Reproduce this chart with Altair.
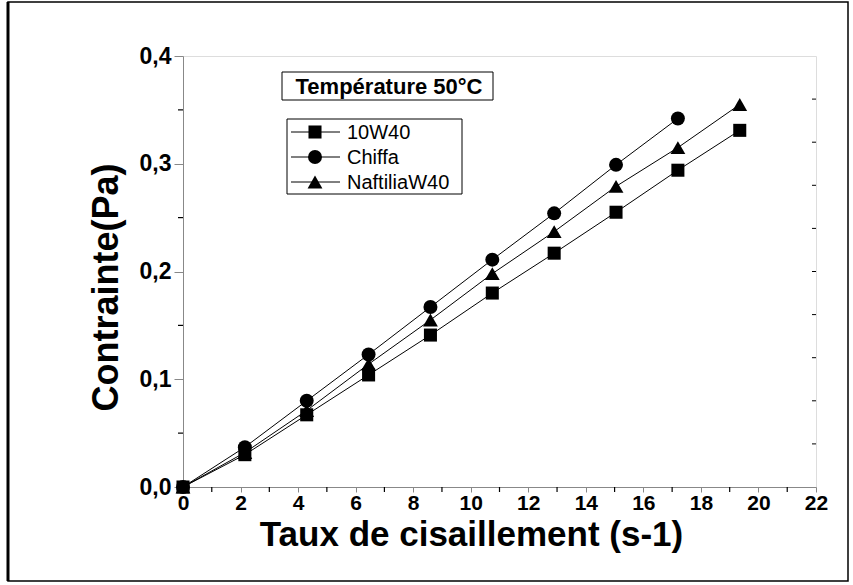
import altair as alt
import pandas as pd

# ---- data ----
x_vals = [0, 2.15, 4.3, 6.45, 8.6, 10.75, 12.9, 15.05, 17.2, 19.35]
y_10w40 = [0, 0.030, 0.067, 0.104, 0.141, 0.180, 0.217, 0.255, 0.294, 0.331]
y_chiffa = [0, 0.037, 0.080, 0.123, 0.167, 0.211, 0.254, 0.299, 0.342]
y_naftilia = [0, 0.032, 0.071, 0.114, 0.155, 0.198, 0.237, 0.279, 0.315, 0.355]
series_names = ["10W40", "Chiffa", "NaftiliaW40"]
title_text = ["Température 50°C"]
x_title = "Taux de cisaillement (s-1)"
y_title = "Contrainte(Pa)"
x_ticks = [0, 2, 4, 6, 8, 10, 12, 14, 16, 18, 20, 22]
x_minor = [1, 3, 5, 7, 9, 11, 13, 15, 17, 19, 21]
y_ticks = [0, 0.1, 0.2, 0.3, 0.4]
y_minor = [0.05, 0.15, 0.25, 0.35]
y_right = [0.04, 0.08, 0.12, 0.16, 0.20, 0.24, 0.28, 0.32, 0.36]

rows = []
for name, ys in zip(series_names, [y_10w40, y_chiffa, y_naftilia]):
    for xv, yv in zip(x_vals, ys):
        rows.append({"series": name, "x": xv, "y": yv})
df = pd.DataFrame(rows)

W, H = 633, 431
FONT = "Liberation Sans"

xs = alt.Scale(domain=[0, 22], nice=False, zero=False)
ys = alt.Scale(domain=[0, 0.4], nice=False, zero=False)

shape_scale = alt.Scale(domain=series_names, range=["square", "circle", "triangle-up"])
size_scale = alt.Scale(domain=series_names, range=[170, 220, 320])
sw_scale = alt.Scale(domain=series_names, range=[1, 1, 2.2])

x_axis = alt.Axis(values=x_ticks, format="d", labelFont=FONT, labelFontSize=21,
                  labelFontWeight="bold", tickSize=5, labelPadding=0, labelFlush=False,
                  titleFontSize=35, titleFont=FONT, titleFontWeight="bold",
                  titlePadding=4, titleX=288, grid=False)
y_axis = alt.Axis(values=y_ticks, format=".1f",
                  labelExpr="replace(datum.label, '.', ',')",
                  labelFont=FONT, labelFontSize=23, labelFontWeight="bold",
                  tickSize=9, labelPadding=3, labelFlush=False,
                  titleFontSize=36, titleFont=FONT, titleFontWeight="bold",
                  titlePadding=14, titleY=231, grid=False)


def X(field):
    return alt.X(field, scale=xs, title=x_title, axis=x_axis)


def Y(field):
    return alt.Y(field, scale=ys, title=y_title, axis=y_axis)


base = alt.Chart(df)
lines = base.mark_line(color="black").encode(
    x=X("x:Q"), y=Y("y:Q"), detail="series:N",
    strokeWidth=alt.StrokeWidth("series:N", scale=sw_scale, legend=None),
)
points = base.mark_point(filled=True, color="black", opacity=1).encode(
    x=X("x:Q"), y=Y("y:Q"),
    shape=alt.Shape("series:N", scale=shape_scale, legend=None),
    size=alt.Size("series:N", scale=size_scale, legend=None),
)

xminor = alt.Chart(pd.DataFrame({"x": x_minor})).mark_rule(color="black", strokeWidth=1.2).encode(
    x=X("x:Q"), y=alt.value(H), y2=alt.value(H + 5))
yminor = alt.Chart(pd.DataFrame({"y": y_minor})).mark_rule(color="black", strokeWidth=1.2).encode(
    y=Y("y:Q"), x=alt.value(-5), x2=alt.value(0))
yright = alt.Chart(pd.DataFrame({"y": y_right})).mark_rule(color="black", strokeWidth=1).encode(
    y=Y("y:Q"), x=alt.value(W - 4), x2=alt.value(W))

one = pd.DataFrame({"k": [0]})
frame = alt.Chart(one).mark_rect(fillOpacity=0, stroke="black", strokeWidth=1.5).encode(
    x=alt.value(-175), x2=alt.value(665), y=alt.value(-54), y2=alt.value(525))
frame_left = alt.Chart(one).mark_rule(color="black", strokeWidth=3).encode(
    x=alt.value(-175), y=alt.value(-54), y2=alt.value(525))

title_box = alt.Chart(one).mark_rect(fill="white", stroke="black", strokeWidth=1).encode(
    x=alt.value(99), x2=alt.value(310), y=alt.value(16), y2=alt.value(44))
title_txt = alt.Chart(pd.DataFrame({"t": title_text})).mark_text(
    font=FONT, fontSize=22, fontWeight="bold", color="black", align="center", baseline="middle"
).encode(text="t:N", x=alt.value(206), y=alt.value(31))

legend_box = alt.Chart(one).mark_rect(fill="white", stroke="black", strokeWidth=1).encode(
    x=alt.value(104), x2=alt.value(279), y=alt.value(63), y2=alt.value(138))

legend_layers = []
row_y = [76, 101, 126]
for name, ry in zip(series_names, row_y):
    d = pd.DataFrame({"series": [name]})
    legend_layers.append(alt.Chart(d).mark_rule(color="black").encode(
        x=alt.value(108), x2=alt.value(157), y=alt.value(ry),
        strokeWidth=alt.StrokeWidth("series:N", scale=sw_scale, legend=None)))
    legend_layers.append(alt.Chart(d).mark_point(filled=True, color="black", opacity=1).encode(
        x=alt.value(132), y=alt.value(ry),
        shape=alt.Shape("series:N", scale=shape_scale, legend=None),
        size=alt.Size("series:N", scale=size_scale, legend=None)))
    legend_layers.append(alt.Chart(d).mark_text(
        font=FONT, fontSize=20, color="black", align="left", baseline="middle").encode(
        text="series:N", x=alt.value(164), y=alt.value(ry + 1)))

chart = alt.layer(
    frame, frame_left, lines, points, xminor, yminor, yright,
    title_box, title_txt, legend_box, *legend_layers
).properties(
    width=W, height=H,
    autosize=alt.AutoSizeParams(type="none"),
    padding={"left": 183, "top": 56, "right": 37, "bottom": 98},
).configure_view(
    stroke="black", strokeWidth=1
).configure_axis(
    domainColor="black", domainWidth=2, tickColor="black", tickWidth=1.5,
    labelColor="black", titleColor="black"
).configure(background="white")

chart.save("out.html", embed_options={"renderer": "svg", "actions": False})
